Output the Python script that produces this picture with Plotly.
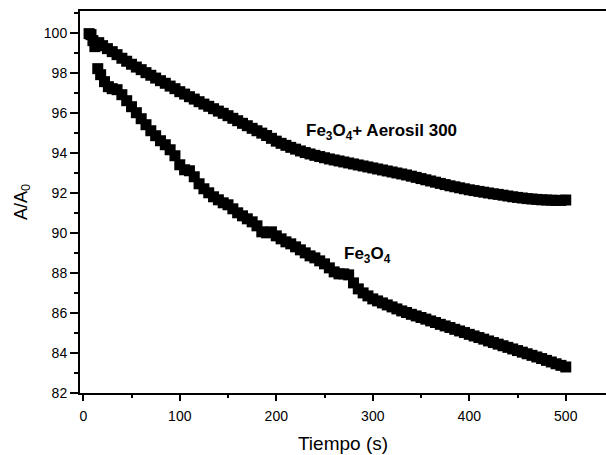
import plotly.graph_objects as go

# Fe3O4 + Aerosil 300 (upper curve)
t_aerosil = [6, 8, 10, 12, 14, 16, 20, 25, 30, 35, 40, 45, 50, 55, 60, 65, 70, 75, 80, 85,
             90, 95, 100, 105, 110, 115, 120, 125, 130, 135, 140, 145, 150, 155, 160, 165,
             170, 175, 180, 185, 190, 195, 200, 205, 210, 215, 220, 225, 230, 235, 240,
             245, 250, 255, 260, 265, 270, 275, 280, 285, 290, 295, 300, 305, 310, 315,
             320, 325, 330, 335, 340, 345, 350, 355, 360, 365, 370, 375, 380, 385, 390,
             395, 400, 405, 410, 415, 420, 425, 430, 435, 440, 445, 450, 455, 460, 465,
             470, 475, 480, 485, 490, 495, 500]
a_aerosil = [99.95, 99.9, 99.6, 99.3, 99.4, 99.5, 99.35, 99.2, 99.05, 98.9, 98.72, 98.57,
             98.42, 98.28, 98.15, 98.0, 97.87, 97.73, 97.6, 97.47, 97.33, 97.2, 97.05, 96.93,
             96.8, 96.68, 96.55, 96.43, 96.32, 96.2, 96.08, 95.97, 95.85, 95.72, 95.6, 95.47,
             95.35, 95.22, 95.1, 94.98, 94.86, 94.72, 94.58, 94.47, 94.37, 94.27, 94.18, 94.09,
             94.01, 93.94, 93.87, 93.81, 93.75, 93.69, 93.64, 93.59, 93.54, 93.49, 93.44, 93.39,
             93.34, 93.29, 93.24, 93.19, 93.14, 93.09, 93.04, 92.99, 92.94, 92.89, 92.83, 92.77,
             92.71, 92.65, 92.59, 92.53, 92.47, 92.41, 92.35, 92.3, 92.25, 92.2, 92.15, 92.11,
             92.07, 92.03, 91.99, 91.95, 91.92, 91.88, 91.84, 91.8, 91.77, 91.74, 91.71,
             91.69, 91.67, 91.65, 91.64, 91.63, 91.62, 91.62, 91.64]

# Fe3O4 (lower curve)
t_fe = [15, 18, 22, 26, 30, 35, 40, 45, 50, 55, 60, 65, 70, 75, 80, 85, 90, 95, 100, 105,
        110, 115, 120, 125, 130, 135, 140, 145, 150, 155, 160, 165, 170, 175, 180, 185,
        190, 195, 200, 205, 210, 215, 220, 225, 230, 235, 240, 245, 250, 255, 260, 265,
        270, 275, 280, 285, 290, 295, 300, 305, 310, 315, 320, 325, 330, 335, 340, 345,
        350, 355, 360, 365, 370, 375, 380, 385, 390, 395, 400, 405, 410, 415, 420, 425,
        430, 435, 440, 445, 450, 455, 460, 465, 470, 475, 480, 485, 490, 495, 500]
a_fe = [98.2, 97.9, 97.55, 97.3, 97.2, 97.15, 96.9, 96.6, 96.3, 96.0, 95.7, 95.4, 95.1,
        94.85, 94.6, 94.4, 94.15, 93.85, 93.4, 93.15, 93.1, 92.8, 92.45, 92.2, 92.0, 91.8,
        91.65, 91.5, 91.4, 91.2, 91.0, 90.85, 90.7, 90.55, 90.35, 90.05, 90.0, 90.05, 89.85,
        89.7, 89.55, 89.45, 89.3, 89.15, 89.0, 88.85, 88.75, 88.6, 88.45, 88.25, 88.05,
        87.95, 87.95, 87.9, 87.5, 87.2, 87.0, 86.85, 86.7, 86.6, 86.5, 86.4, 86.3, 86.2,
        86.1, 86.02, 85.93, 85.85, 85.77, 85.69, 85.6, 85.52, 85.43, 85.35, 85.27, 85.18,
        85.1, 85.02, 84.93, 84.85, 84.77, 84.69, 84.6, 84.52, 84.44, 84.36, 84.28, 84.2,
        84.12, 84.04, 83.96, 83.88, 83.8, 83.72, 83.63, 83.55, 83.46, 83.38, 83.3]

x_ticks = [0, 100, 200, 300, 400, 500]
y_ticks = [82, 84, 86, 88, 90, 92, 94, 96, 98, 100]

FONT = "Liberation Sans, Arial, sans-serif"

fig = go.Figure()
for tx, ay in [(t_aerosil, a_aerosil), (t_fe, a_fe)]:
    fig.add_trace(go.Scatter(
        x=tx, y=ay, mode="markers",
        marker=dict(symbol="square", size=11, color="black", line=dict(width=0)),
        showlegend=False, hoverinfo="skip"))

fig.add_annotation(x=228.7, y=95.04, xref="x", yref="y", xanchor="left", yanchor="middle",
                   text="<b>Fe<sub>3</sub>O<sub>4</sub>+ Aerosil 300</b>", showarrow=False,
                   font=dict(family=FONT, size=17, color="black"))
fig.add_annotation(x=267.8, y=88.9, xref="x", yref="y", xanchor="left", yanchor="middle",
                   text="<b>Fe<sub>3</sub>O<sub>4</sub></b>", showarrow=False,
                   font=dict(family=FONT, size=17, color="black"))

fig.update_layout(
    width=606, height=455,
    margin=dict(l=80, r=0, t=11, b=62),
    paper_bgcolor="white", plot_bgcolor="white",
    font=dict(family=FONT, color="black"),
    xaxis=dict(range=[-3.4, 541.7], tickvals=x_ticks, ticks="outside", ticklen=6, tickwidth=1.5,
               tickcolor="black", showline=True, linecolor="black", linewidth=2, mirror=True,
               showgrid=False, zeroline=False, tickfont=dict(size=14), ticklabelstandoff=3,
               minor=dict(dtick=50, ticks="outside", ticklen=3, tickwidth=1.5, tickcolor="black", showgrid=False),
               title=dict(text="Tiempo (s)", font=dict(size=19), standoff=14), automargin=False),
    yaxis=dict(range=[82, 101.08], tickvals=y_ticks, ticks="outside", ticklen=8, tickwidth=1.5,
               tickcolor="black", showline=True, linecolor="black", linewidth=2,
               showgrid=False, zeroline=False, tickfont=dict(size=14),
               minor=dict(dtick=1, ticks="outside", ticklen=4, tickwidth=1.5, tickcolor="black", showgrid=False),
               title=dict(text="A/A<sub>0</sub>", font=dict(size=18), standoff=12), automargin=False),
)

fig.write_html("out.html")
